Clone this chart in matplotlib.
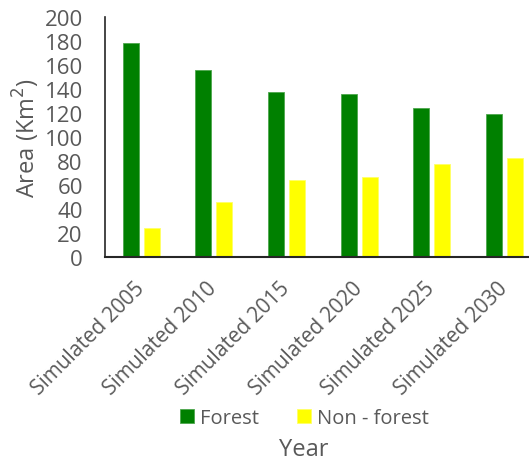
import matplotlib
matplotlib.use("Agg")
import matplotlib.pyplot as plt
import numpy as np

categories = ["Simulated 2005", "Simulated 2010", "Simulated 2015",
              "Simulated 2020", "Simulated 2025", "Simulated 2030"]
forest = [178, 156, 137.5, 135.5, 124.5, 119.5]
non_forest = [24, 46, 64.5, 66.5, 77.5, 82.5]
yticks = [0, 20, 40, 60, 80, 100, 120, 140, 160, 180, 200]

plt.rcParams['font.family'] = ['Open Sans', 'DejaVu Sans']
TXT = '#595959'
W, H = 529, 464
fig = plt.figure(figsize=(W / 100, H / 100), dpi=100)
ax = fig.add_axes([105 / W, (H - 258.3) / H, 435.6 / W, 240.3 / H])

x = np.arange(len(categories))
bw = 0.22
off = 0.145
ax.bar(x - off, forest, bw, color='#008000', edgecolor='#4da64d', linewidth=0.6, label='Forest')
ax.bar(x + off, non_forest, bw, color='#FFFF00', edgecolor='#ffff66', linewidth=0.6, label='Non - forest')

ax.set_xlim(-0.5, len(categories) - 0.5)
ax.set_ylim(0, 200)
ax.set_yticks(yticks)
ax.set_yticklabels([str(v) for v in yticks], fontsize=16, color=TXT)
ax.set_xticks(x)
ax.set_xticklabels(categories, rotation=45, ha='right', va='center',
                   rotation_mode='anchor', fontsize=15, color=TXT)
ax.tick_params(axis='x', length=0, pad=20)
ax.tick_params(axis='y', length=0, pad=16)
for s in ['top', 'right']:
    ax.spines[s].set_visible(False)
ax.spines['left'].set_color('#262626')
ax.spines['bottom'].set_color('#262626')
ax.spines['left'].set_linewidth(1.2)
ax.spines['bottom'].set_linewidth(1.5)

ax.set_ylabel('Area (Km$^{2}$)', fontsize=17, color=TXT, labelpad=2)

fig.legend(loc='center', bbox_to_anchor=(304.5 / W, 1 - 419 / H), ncol=2,
           frameon=False, fontsize=14.5, labelcolor=TXT, handlelength=0.7,
           handleheight=0.7, columnspacing=1.9, handletextpad=0.3)
fig.text(304 / W, 1 - 450 / H, 'Year', ha='center', va='center', fontsize=17, color=TXT)

fig.savefig('out.png', dpi=100)
